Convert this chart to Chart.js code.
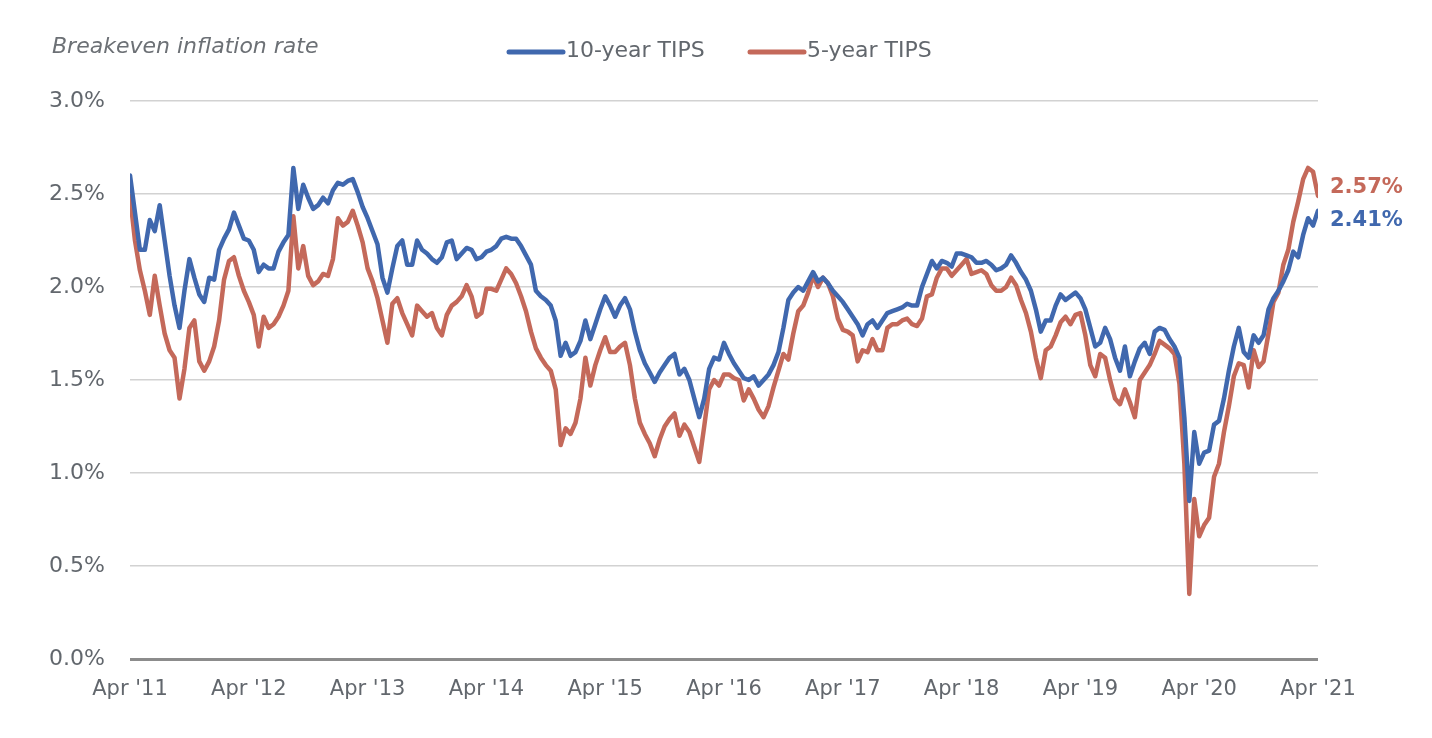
<!DOCTYPE html>
<html>
<head>
<meta charset="utf-8">
<script src="https://cdn.jsdelivr.net/npm/chart.js@4"></script>
<style>
  html, body { margin: 0; padding: 0; background: #fff; }
  #wrap { width: 1432px; height: 738px; position: relative; }
</style>
</head>
<body>
<div id="wrap"><canvas id="chart"></canvas></div>
<script>
// x ticks, one per April; series are read twice a month from Apr '11 to Apr '21
const tickLabels = ["Apr '11", "Apr '12", "Apr '13", "Apr '14", "Apr '15", "Apr '16", "Apr '17", "Apr '18", "Apr '19", "Apr '20", "Apr '21"];
const seriesNames = ['10-year TIPS', '5-year TIPS'];
const endLabels = ['2.41%', '2.57%'];

const tips10 = [
  2.60, 2.40, 2.20, 2.20, 2.36, 2.30, 2.44, 2.25, 2.06, 1.90, 1.78, 1.98,
  2.15, 2.05, 1.96, 1.92, 2.05, 2.04, 2.20, 2.26, 2.31, 2.40, 2.33, 2.26,
  2.25, 2.20, 2.08, 2.12, 2.10, 2.10, 2.19, 2.24, 2.28, 2.64, 2.42, 2.55,
  2.48, 2.42, 2.44, 2.48, 2.45, 2.52, 2.56, 2.55, 2.57, 2.58, 2.51, 2.43,
  2.37, 2.30, 2.23, 2.05, 1.97, 2.10, 2.22, 2.25, 2.12, 2.12, 2.25, 2.20,
  2.18, 2.15, 2.13, 2.16, 2.24, 2.25, 2.15, 2.18, 2.21, 2.20, 2.15, 2.16,
  2.19, 2.20, 2.22, 2.26, 2.27, 2.26, 2.26, 2.22, 2.17, 2.12, 1.98, 1.95,
  1.93, 1.90, 1.82, 1.63, 1.70, 1.63, 1.65, 1.71, 1.82, 1.72, 1.80, 1.88,
  1.95, 1.90, 1.84, 1.90, 1.94, 1.88, 1.76, 1.66, 1.59, 1.54, 1.49, 1.54,
  1.58, 1.62, 1.64, 1.53, 1.56, 1.50, 1.40, 1.30, 1.40, 1.56, 1.62, 1.61,
  1.70, 1.64, 1.59, 1.55, 1.51, 1.50, 1.52, 1.47, 1.50, 1.53, 1.58, 1.65,
  1.78, 1.93, 1.97, 2.00, 1.98, 2.03, 2.08, 2.03, 2.05, 2.02, 1.98, 1.95,
  1.92, 1.88, 1.84, 1.80, 1.74, 1.80, 1.82, 1.78, 1.82, 1.86, 1.87, 1.88,
  1.89, 1.91, 1.90, 1.90, 2.00, 2.07, 2.14, 2.10, 2.14, 2.13, 2.11, 2.18,
  2.18, 2.17, 2.16, 2.13, 2.13, 2.14, 2.12, 2.09, 2.10, 2.12, 2.17, 2.13,
  2.08, 2.04, 1.98, 1.88, 1.76, 1.82, 1.82, 1.90, 1.96, 1.93, 1.95, 1.97,
  1.94, 1.88, 1.78, 1.68, 1.70, 1.78, 1.72, 1.62, 1.55, 1.68, 1.52, 1.60,
  1.67, 1.70, 1.64, 1.76, 1.78, 1.77, 1.72, 1.68, 1.62, 1.30, 0.85, 1.22,
  1.05, 1.11, 1.12, 1.26, 1.28, 1.40, 1.55, 1.68, 1.78, 1.65, 1.62, 1.74,
  1.70, 1.74, 1.88, 1.94, 1.98, 2.03, 2.09, 2.19, 2.16, 2.28, 2.37, 2.33,
  2.41
];

const tips5 = [
  2.49, 2.25, 2.09, 1.98, 1.85, 2.06, 1.90, 1.75, 1.66, 1.62, 1.40, 1.56,
  1.78, 1.82, 1.60, 1.55, 1.60, 1.68, 1.82, 2.04, 2.14, 2.16, 2.06, 1.98,
  1.92, 1.85, 1.68, 1.84, 1.78, 1.80, 1.84, 1.90, 1.98, 2.38, 2.10, 2.22,
  2.06, 2.01, 2.03, 2.07, 2.06, 2.15, 2.37, 2.33, 2.35, 2.41, 2.33, 2.24,
  2.10, 2.03, 1.94, 1.82, 1.70, 1.91, 1.94, 1.86, 1.80, 1.74, 1.90, 1.87,
  1.84, 1.86, 1.78, 1.74, 1.85, 1.90, 1.92, 1.95, 2.01, 1.95, 1.84, 1.86,
  1.99, 1.99, 1.98, 2.04, 2.10, 2.07, 2.02, 1.95, 1.87, 1.76, 1.67, 1.62,
  1.58, 1.55, 1.45, 1.15, 1.24, 1.21, 1.27, 1.40, 1.62, 1.47, 1.58, 1.66,
  1.73, 1.65, 1.65, 1.68, 1.70, 1.58, 1.40, 1.27, 1.21, 1.16, 1.09, 1.18,
  1.25, 1.29, 1.32, 1.20, 1.26, 1.22, 1.14, 1.06, 1.25, 1.45, 1.50, 1.47,
  1.53, 1.53, 1.51, 1.50, 1.39, 1.45, 1.40, 1.34, 1.30, 1.36, 1.46, 1.55,
  1.64, 1.61, 1.75, 1.87, 1.90, 1.97, 2.06, 2.00, 2.05, 2.02, 1.95, 1.83,
  1.77, 1.76, 1.74, 1.60, 1.66, 1.65, 1.72, 1.66, 1.66, 1.78, 1.80, 1.80,
  1.82, 1.83, 1.80, 1.79, 1.83, 1.95, 1.96, 2.05, 2.10, 2.10, 2.06, 2.09,
  2.12, 2.15, 2.07, 2.08, 2.09, 2.07, 2.01, 1.98, 1.98, 2.00, 2.05, 2.01,
  1.93, 1.86, 1.76, 1.62, 1.51, 1.66, 1.68, 1.74, 1.81, 1.84, 1.80, 1.85,
  1.86, 1.74, 1.58, 1.52, 1.64, 1.62, 1.50, 1.40, 1.37, 1.45, 1.38, 1.30,
  1.50, 1.54, 1.58, 1.64, 1.71, 1.69, 1.67, 1.64, 1.48, 1.05, 0.35, 0.86,
  0.66, 0.72, 0.76, 0.98, 1.05, 1.22, 1.36, 1.52, 1.59, 1.58, 1.46, 1.66,
  1.57, 1.60, 1.75, 1.92, 1.97, 2.12, 2.20, 2.35, 2.46, 2.58, 2.64, 2.62,
  2.49
];

const BLUE = '#4068ae';
const RED = '#c4695a';
const TEXT = '#62676d';
const FONT = "'DejaVu Sans', sans-serif";
const PER_YEAR = 24;

function toPoints(vals) {
  return vals.map((v, i) => ({ x: i, y: v }));
}

// title, legend and the end-of-line value labels
const overlay = {
  id: 'overlay',
  afterDraw(chart) {
    const ctx = chart.ctx;
    const area = chart.chartArea;
    ctx.save();
    ctx.textBaseline = 'middle';

    ctx.fillStyle = '#6c7075';
    ctx.font = 'italic 22px ' + FONT;
    ctx.textAlign = 'left';
    ctx.fillText('Breakeven inflation rate', 52, 47);

    ctx.font = '22px ' + FONT;
    const items = [
      { text: seriesNames[0], color: BLUE, x: 509 },
      { text: seriesNames[1], color: RED, x: 750 }
    ];
    items.forEach(it => {
      ctx.strokeStyle = it.color;
      ctx.lineWidth = 5;
      ctx.lineCap = 'round';
      ctx.beginPath();
      ctx.moveTo(it.x, 52);
      ctx.lineTo(it.x + 54, 52);
      ctx.stroke();
      ctx.fillStyle = TEXT;
      ctx.fillText(it.text, it.x + 57, 51);
    });

    const ys = chart.scales.y;
    ctx.font = 'bold 21px ' + FONT;
    ctx.fillStyle = RED;
    ctx.fillText(endLabels[1], area.right + 12, ys.getPixelForValue(parseFloat(endLabels[1])) + 7);
    ctx.fillStyle = BLUE;
    ctx.fillText(endLabels[0], area.right + 12, ys.getPixelForValue(parseFloat(endLabels[0])) + 10);
    ctx.restore();
  }
};

const lineStyle = { borderWidth: 4.5, pointRadius: 0, tension: 0, borderJoinStyle: 'round', borderCapStyle: 'round' };

new Chart(document.getElementById('chart'), {
  type: 'line',
  data: {
    datasets: [
      { label: seriesNames[0], data: toPoints(tips10), borderColor: BLUE, ...lineStyle },
      { label: seriesNames[1], data: toPoints(tips5), borderColor: RED, ...lineStyle }
    ]
  },
  options: {
    responsive: true,
    maintainAspectRatio: false,
    animation: false,
    layout: { padding: { top: 101, right: 114, bottom: 0, left: 0 } },
    plugins: { legend: { display: false }, tooltip: { enabled: false } },
    scales: {
      x: {
        type: 'linear',
        min: 0,
        max: (tickLabels.length - 1) * PER_YEAR,
        afterFit(scale) { scale.height = 79; },
        afterBuildTicks(scale) {
          scale.ticks = tickLabels.map((t, i) => ({ value: i * PER_YEAR }));
        },
        ticks: {
          autoSkip: false,
          maxRotation: 0,
          padding: 10,
          color: TEXT,
          font: { family: FONT, size: 21 },
          callback: v => tickLabels[v / PER_YEAR]
        },
        grid: { display: false },
        border: { display: false }
      },
      y: {
        min: 0,
        max: 3,
        afterFit(scale) { scale.width = 130; },
        ticks: {
          stepSize: 0.5,
          padding: 25,
          color: TEXT,
          font: { family: FONT, size: 22 },
          callback: v => v.toFixed(1) + '%'
        },
        grid: {
          drawTicks: false,
          color: c => c.tick.value === 0 ? '#8c8c8c' : '#d2d2d2',
          lineWidth: c => c.tick.value === 0 ? 3 : 1.5
        },
        border: { display: false }
      }
    }
  },
  plugins: [overlay]
});
</script>
</body>
</html>
